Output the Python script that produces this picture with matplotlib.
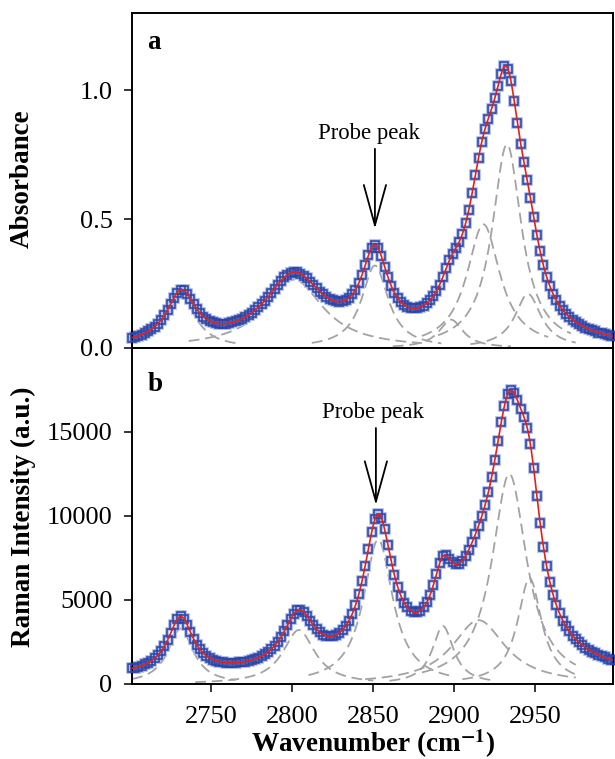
import numpy as np
import matplotlib
matplotlib.use("Agg")
import matplotlib.pyplot as plt

plt.rcParams['font.family'] = ['Liberation Serif', 'DejaVu Serif']
plt.rcParams['mathtext.fontset'] = 'stix'

# ---------------- data ----------------
# sampling of the measured spectrum (cm-1)
wn_start, wn_stop, wn_step = 2701, 2999, 2

# panel a (IR absorbance): fitted band components
a_center = [2731.5, 2801, 2851, 2898, 2918, 2932.5, 2945.5]
a_height = [0.195, 0.265, 0.32, 0.11, 0.48, 0.79, 0.21]
a_hwhm   = [11, 22, 10, 9, 12.5, 11, 9.8]
a_lo     = [2701, 2736, 2812, 2862, 2880, 2890, 2910]
a_hi     = [2767, 2880, 2892, 2935, 2958, 2972, 2975]
a_base   = 0.0

# panel b (Raman intensity): fitted band components
b_center = [2731, 2804, 2853, 2893, 2915, 2934, 2946.5]
b_height = [3300, 3214, 8600, 3450, 3800, 12500, 6300]
b_hwhm   = [9.5, 12, 11, 8, 20, 13, 9]
b_lo     = [2701, 2740, 2810, 2860, 2845, 2880, 2905]
b_hi     = [2765, 2850, 2900, 2925, 2975, 2975, 2975]
b_base   = 450

x_ticks = [2750, 2800, 2850, 2900, 2950]
a_yticks = [0.0, 0.5, 1.0]
b_yticks = [0, 5000, 10000, 15000]
# -----------------------------------------------------------------

def lorentz(x, c, h, w):
    return h / (1.0 + ((x - c) / w) ** 2)

x_meas = np.arange(wn_start, wn_stop + 0.1, wn_step)
x_fine = np.linspace(wn_start, wn_stop, 800)

fig = plt.figure(figsize=(6.15, 7.59), dpi=100)
L, R = 132 / 615, 613 / 615
axa = fig.add_axes([L, 1 - 348 / 759, R - L, 335 / 759])
axb = fig.add_axes([L, 1 - 684 / 759, R - L, 336 / 759], sharex=axa)

def draw(ax, cen, hei, wid, lo, hi, base):
    for c, h, w, l, r in zip(cen, hei, wid, lo, hi):
        xs = np.linspace(l, r, 200)
        ax.plot(xs, lorentz(xs, c, h, w), color='#a3a3a3', lw=1.3,
                dashes=(6, 3.2), zorder=1)
    ym = base + sum(lorentz(x_meas, c, h, w) for c, h, w in zip(cen, hei, wid))
    yf = base + sum(lorentz(x_fine, c, h, w) for c, h, w in zip(cen, hei, wid))
    ax.plot(x_meas, ym, 's', ms=5.6, mfc='none', mec='#a9b8e6', mew=2.6,
            zorder=2, clip_on=False)
    ax.plot(x_meas, ym, 's', ms=5.6, mfc='none', mec='#2c44a6', mew=1.1,
            zorder=3, clip_on=False)
    ax.plot(x_fine, yf, color='#e3211c', lw=1.2, zorder=4)

draw(axa, a_center, a_height, a_hwhm, a_lo, a_hi, a_base)
draw(axb, b_center, b_height, b_hwhm, b_lo, b_hi, b_base)

for ax in (axa, axb):
    ax.set_xlim(2701, 2998)
    for s in ax.spines.values():
        s.set_linewidth(1.4)
    ax.tick_params(direction='out', length=6, width=1.1, labelsize=19, pad=8)

axa.set_ylim(0, 1.3)
axa.set_yticks(a_yticks)
axa.set_yticklabels(['0.0', '0.5', '1.0'])
axb.set_ylim(0, 20000)
axb.set_yticks(b_yticks)
axb.set_xticks(x_ticks)
axa.tick_params(axis='x', labelbottom=False)
axb.tick_params(axis='x', pad=10)

axa.set_ylabel('Absorbance', fontsize=19.5, fontweight='bold', va='center')
axa.yaxis.set_label_coords(-0.229, 0.506)
axb.set_ylabel('Raman Intensity (a.u.)', fontsize=19.5, fontweight='bold',
               va='center')
axb.yaxis.set_label_coords(-0.226, 0.498)
axb.set_xlabel(r'Wavenumber (cm$^{\mathbf{-1}}$)', fontsize=19.5,
               fontweight='bold', va='baseline')
axb.xaxis.set_label_coords(0.5, -0.203)

axa.text(0.046, 0.913, 'a', transform=axa.transAxes, fontsize=19.5,
         fontweight='bold', ha='center', va='center')
axb.text(0.048, 0.89, 'b', transform=axb.transAxes, fontsize=19.5,
         fontweight='bold', ha='center', va='center')

arrow = dict(arrowstyle='->,head_length=2.9,head_width=0.8', lw=1.3,
             color='black', shrinkA=0, shrinkB=0, mutation_scale=10)
axa.text(2847.3, 0.831, 'Probe peak', fontsize=16.4, ha='center', va='center')
axa.annotate('', xy=(2851, 0.463), xytext=(2851, 0.773), arrowprops=arrow)
axb.text(2849.8, 16190, 'Probe peak', fontsize=16.4, ha='center', va='center')
axb.annotate('', xy=(2851.6, 10654), xytext=(2851.6, 15237), arrowprops=arrow)

fig.savefig('out.png', dpi=100)
